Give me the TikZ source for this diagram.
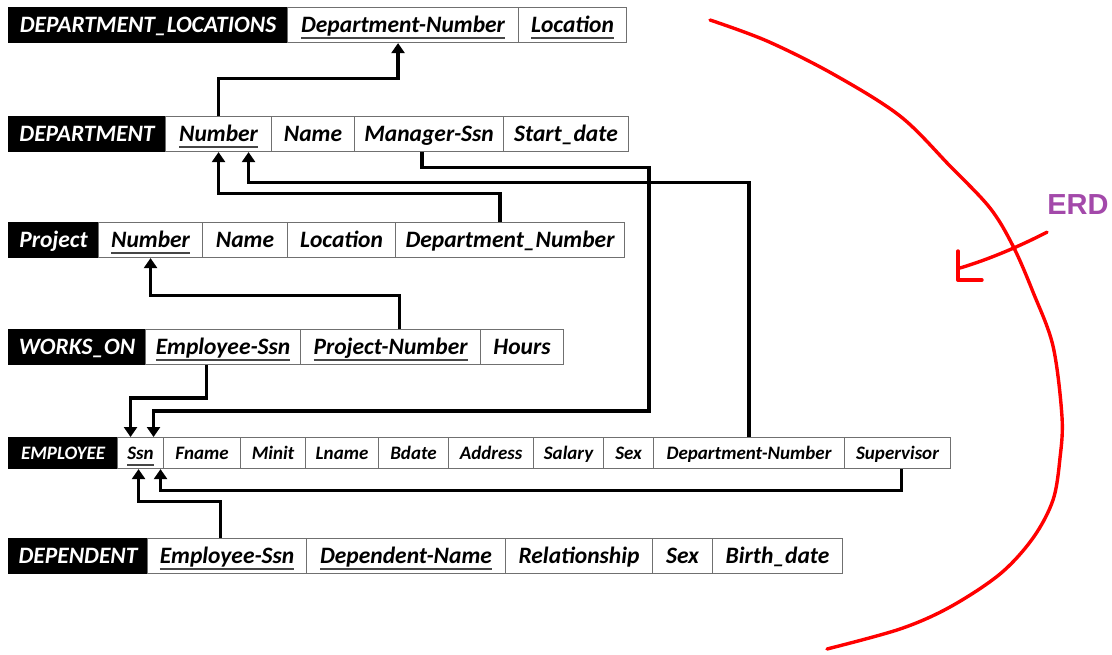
\documentclass[tikz,border=0pt]{standalone}
\usepackage{fontspec}
\setmainfont{Carlito}
\newfontfamily\erdfont{Liberation Sans}
\usetikzlibrary{arrows.meta,calc}
\definecolor{cellgray}{RGB}{112,112,112}
\definecolor{keyline}{RGB}{70,70,70}
\definecolor{erdpurple}{RGB}{163,73,170}
\definecolor{penred}{RGB}{255,0,0}
% key attribute: text with a thick rule below it (the rule takes no room)
\newcommand\keyattr[1]{\setbox0\hbox{#1}\leavevmode\rlap{\smash{\color{keyline}\vrule height -4.8pt depth 6.6pt width \wd0}}\box0}
\begin{document}
\begin{tikzpicture}[x=1pt,y=-1pt,
  cell/.style={draw=cellgray, line width=1.1pt, fill=white, inner sep=0pt,
    anchor=north west, text=black, minimum height=35pt,
    text height=18pt, text depth=3pt,
    font=\fontsize{23.5}{25}\selectfont\bfseries\itshape},
  head/.style={cell, fill=black, draw=black, text=white},
  emp/.style={minimum height=31pt, text height=15pt, text depth=2pt,
    font=\fontsize{19}{21}\selectfont\bfseries\itshape},
  fk/.style={line width=3.2pt, -{Triangle[width=13pt,length=10pt]}},
  hand/.style={penred, line width=3.4pt, line cap=round, line join=round}]
\useasboundingbox (0,0) rectangle (1112,654);

% DEPARTMENT_LOCATIONS
\node[head, minimum width=279pt] (dlh) at (8,7) {DEPARTMENT\_LOCATIONS};
\node[cell, minimum width=231pt] (dlnum) at (287,7) {\keyattr{Department-Number}};
\node[cell, minimum width=108pt] (dlloc) at (518,7) {\keyattr{Location}};

% DEPARTMENT
\node[head, minimum width=157pt] (dh) at (8,116) {DEPARTMENT};
\node[cell, minimum width=106pt] (dnum) at (165,116) {\keyattr{Number}};
\node[cell, minimum width=83pt] (dname) at (271,116) {Name};
\node[cell, minimum width=149pt] (dmgr) at (354,116) {Manager-Ssn};
\node[cell, minimum width=125pt] (dstart) at (503,116) {Start\_date};

% Project
\node[head, minimum width=90pt] (ph) at (8,222) {Project};
\node[cell, minimum width=104pt] (pnum) at (98,222) {\keyattr{Number}};
\node[cell, minimum width=85pt] (pname) at (202,222) {Name};
\node[cell, minimum width=108pt] (ploc) at (287,222) {Location};
\node[cell, minimum width=229pt] (pdept) at (395,222) {Department\_Number};

% WORKS_ON
\node[head, minimum width=137pt] (wh) at (8,329) {WORKS\_ON};
\node[cell, minimum width=155pt] (wessn) at (145,329) {\keyattr{Employee-Ssn}};
\node[cell, minimum width=180pt] (wpnum) at (300,329) {\keyattr{Project-Number}};
\node[cell, minimum width=83pt] (whours) at (480,329) {Hours};

% EMPLOYEE
\node[head, emp, minimum width=109pt] (eh) at (8,437) {EMPLOYEE};
\node[cell, emp, minimum width=46pt] (essn) at (117,437) {\keyattr{Ssn}};
\node[cell, emp, minimum width=77pt] (efname) at (163,437) {Fname};
\node[cell, emp, minimum width=65pt] (eminit) at (240,437) {Minit};
\node[cell, emp, minimum width=73pt] (elname) at (305,437) {Lname};
\node[cell, emp, minimum width=70pt] (ebdate) at (378,437) {Bdate};
\node[cell, emp, minimum width=85pt] (eaddr) at (448,437) {Address};
\node[cell, emp, minimum width=70pt] (esal) at (533,437) {Salary};
\node[cell, emp, minimum width=50pt] (esex) at (603,437) {Sex};
\node[cell, emp, minimum width=191pt] (edept) at (653,437) {Department-Number};
\node[cell, emp, minimum width=106pt] (esup) at (844,437) {Supervisor};

% DEPENDENT
\node[head, minimum width=139pt] (deh) at (8,538) {DEPENDENT};
\node[cell, minimum width=159pt] (dessn) at (147,538) {\keyattr{Employee-Ssn}};
\node[cell, minimum width=199pt] (ddname) at (306,538) {\keyattr{Dependent-Name}};
\node[cell, minimum width=147pt] (drel) at (505,538) {Relationship};
\node[cell, minimum width=60pt] (dsex) at (652,538) {Sex};
\node[cell, minimum width=130pt] (dbirth) at (712,538) {Birth\_date};

% foreign keys
\draw[fk] (dnum.north) |- ($(dlnum.south)+(-5,35)$) -- ($(dlnum.south)+(-5,0)$);
\draw[fk] ($(pdept.north)+(-10,0)$) |- ($(dnum.south)+(0,41)$) -- (dnum.south);
\draw[fk] (edept.north) |- ($(dnum.south)+(30,30)$) -- ($(dnum.south)+(30,0)$);
\draw[fk] ($(dmgr.south)+(-7,0)$) -- ($(dmgr.south)+(-7,15)$) -- ($(dmgr.south)+(220,15)$)
  |- ($(essn.north)+(13,-26)$) -- ($(essn.north)+(13,0)$);
\draw[fk] ($(wpnum.north)+(9,0)$) |- ($(pnum.south)+(0,37)$) -- (pnum.south);
\draw[fk] ($(wessn.south)+(-16.5,0)$) |- ($(essn.north)+(-10,-39)$) -- ($(essn.north)+(-10,0)$);
\draw[fk] ($(esup.south)+(4,0)$) |- ($(essn.south)+(20,21)$) -- ($(essn.south)+(20,0)$);
\draw[fk] ($(dessn.north)+(-6.5,0)$) |- ($(essn.south)+(-2,32)$) -- ($(essn.south)+(-2,0)$);

% hand-drawn bracket and label
\draw[hand] plot[smooth, tension=0.55] coordinates {
  (710,20) (767,41) (833,74) (900,116) (950,166) (990,208) (1013,246)
  (1033,292) (1053,346) (1062,417) (1060,458) (1053,500) (1033,538)
  (1000,574) (950,607) (900,629) (827,649)};
\node[text=erdpurple, font=\erdfont\bfseries\fontsize{29}{30}\selectfont, inner sep=0pt] (erd) at (1078,205) {ERD};
\coordinate (erdtip) at (960,268);
\draw[hand] ($(erd.south)+(-31,17)$) .. controls (1020,246) and (990,259) .. (erdtip);
\draw[hand] (958,251) -- (958,280) -- (982,280);
\end{tikzpicture}
\end{document}
